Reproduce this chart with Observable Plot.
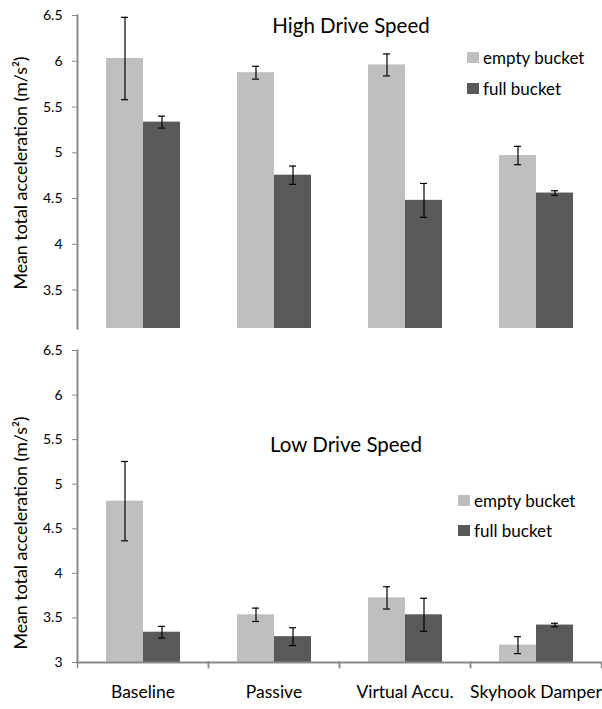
<!DOCTYPE html>
<html>
<head>
<meta charset="utf-8">
<script src="https://cdn.jsdelivr.net/npm/d3@7"></script>
<script src="https://cdn.jsdelivr.net/npm/@observablehq/plot@0.6"></script>
<style>
  html, body { margin: 0; padding: 0; background: #fff; }
  #fig { position: relative; width: 602px; height: 709px; font-family: Lato, "Open Sans", sans-serif; color: #000; }
  #fig svg { position: absolute; left: 0; overflow: visible; }
  .title { position: absolute; font-size: 20.5px; line-height: 1; white-space: nowrap; transform: translateX(-50%); }
  .ylabel { position: absolute; font-size: 17.8px; line-height: 1; white-space: nowrap; transform: translate(-50%, -50%) rotate(-90deg); }
  .legend { position: absolute; font-size: 17px; line-height: 1; }
  .legend div { display: flex; align-items: center; white-space: nowrap; }
  .legend span.sw { display: inline-block; width: 12px; height: 11px; margin-right: 4px; }
</style>
</head>
<body>
<div id="fig"></div>
<script>
// Suspension strategies and bucket loads
const categories = ["Baseline", "Passive", "Virtual Accu.", "Skyhook Damper"];
const series = ["empty bucket", "full bucket"];
const colors = ["#bfbfbf", "#595959"];

// High drive speed: means and error half-widths (m/s²)
const highEmpty = [6.03, 5.875, 5.96, 4.97];
const highEmptyErr = [0.45, 0.07, 0.12, 0.10];
const highFull = [5.335, 4.755, 4.48, 4.56];
const highFullErr = [0.065, 0.10, 0.185, 0.025];

// Low drive speed: means and error half-widths (m/s²)
const lowEmpty = [4.81, 3.535, 3.725, 3.195];
const lowEmptyErr = [0.445, 0.075, 0.125, 0.095];
const lowFull = [3.34, 3.29, 3.535, 3.42];
const lowFullErr = [0.065, 0.10, 0.185, 0.02];

const yTicks = [3, 3.5, 4, 4.5, 5, 5.5, 6, 6.5];
const yLabel = "Mean total acceleration (m/s²)";

function toRows(empty, emptyErr, full, fullErr) {
  const rows = [];
  categories.forEach((c, i) => {
    rows.push({category: c, series: series[0], value: empty[i], err: emptyErr[i]});
    rows.push({category: c, series: series[1], value: full[i], err: fullErr[i]});
  });
  return rows;
}

const W = 602;
const marginLeft = 77;
const marginRight = 1;
const axisColor = "#898989";
const font = "Lato, 'Open Sans', sans-serif";

function panel({rows, top, height, marginTop, marginBottom, domain, ticks, showLabels}) {
  const frameH = height - marginTop - marginBottom;
  const lo = d => d.value - d.err;
  const hi = d => d.value + d.err;
  const marks = [
    Plot.barY(rows, {fx: "category", x: "series", y: "value", fill: "series", clip: true}),
    Plot.ruleX(rows, {fx: "category", x: "series", y1: lo, y2: hi, stroke: "#000", strokeWidth: 1.2}),
    Plot.tickY(rows, {fx: "category", x: "series", y: lo, stroke: "#000", strokeWidth: 1.2, insetLeft: 15, insetRight: 15}),
    Plot.tickY(rows, {fx: "category", x: "series", y: hi, stroke: "#000", strokeWidth: 1.2, insetLeft: 15, insetRight: 15}),
    Plot.frame({anchor: "left", facetAnchor: "left", stroke: axisColor, strokeWidth: 2}),
    Plot.axisY({ticks, tickSize: 5, tickPadding: 10, label: null, stroke: axisColor, fontSize: 14, tickFormat: d => String(d)})
  ];
  if (showLabels) {
    marks.push(
      Plot.frame({anchor: "bottom", stroke: axisColor, strokeWidth: 2}),
      Plot.frame({anchor: "left", stroke: axisColor, strokeWidth: 1.5, insetTop: frameH, insetBottom: -5}),
      Plot.frame({anchor: "right", stroke: axisColor, strokeWidth: 1.5, insetTop: frameH, insetBottom: -5}),
      Plot.axisFx({anchor: "bottom", tickSize: 0, tickPadding: 23, label: null, fontSize: 17.5})
    );
  }
  const svg = Plot.plot({
    width: W,
    height,
    marginTop,
    marginBottom,
    marginLeft,
    marginRight,
    style: {fontFamily: font, color: "#000", background: "transparent"},
    fx: {domain: categories, padding: 0, axis: showLabels ? undefined : null},
    x: {domain: series, paddingInner: 0, paddingOuter: 0.737, axis: null},
    y: {domain, axis: null},
    color: {domain: series, range: colors},
    marks
  });
  svg.style.top = top + "px";
  return svg;
}

const fig = document.getElementById("fig");

fig.append(panel({
  rows: toRows(highEmpty, highEmptyErr, highFull, highFullErr),
  top: 0, height: 328, marginTop: 15, marginBottom: 0,
  domain: [3.08, 6.5], ticks: yTicks.slice(1), showLabels: false
}));

fig.append(panel({
  rows: toRows(lowEmpty, lowEmptyErr, lowFull, lowFullErr),
  top: 328, height: 381, marginTop: 22, marginBottom: 47,
  domain: [3, 6.5], ticks: yTicks, showLabels: true
}));

function addText(cls, text, x, y) {
  const el = document.createElement("div");
  el.className = cls;
  el.textContent = text;
  el.style.left = x + "px";
  el.style.top = y + "px";
  fig.append(el);
}

function addLegend(x, y, gap) {
  const box = document.createElement("div");
  box.className = "legend";
  box.style.left = x + "px";
  box.style.top = y + "px";
  series.forEach((s, i) => {
    const row = document.createElement("div");
    row.style.height = gap + "px";
    const sw = document.createElement("span");
    sw.className = "sw";
    sw.style.background = colors[i];
    row.append(sw, document.createTextNode(s));
    box.append(row);
  });
  fig.append(box);
}

addText("title", "High Drive Speed", 351, 15);
addText("title", "Low Drive Speed", 346, 434);
addText("ylabel", yLabel, 21, 173);
addText("ylabel", yLabel, 21, 533);
addLegend(467, 42, 31);
addLegend(458, 485, 30);
</script>
</body>
</html>
